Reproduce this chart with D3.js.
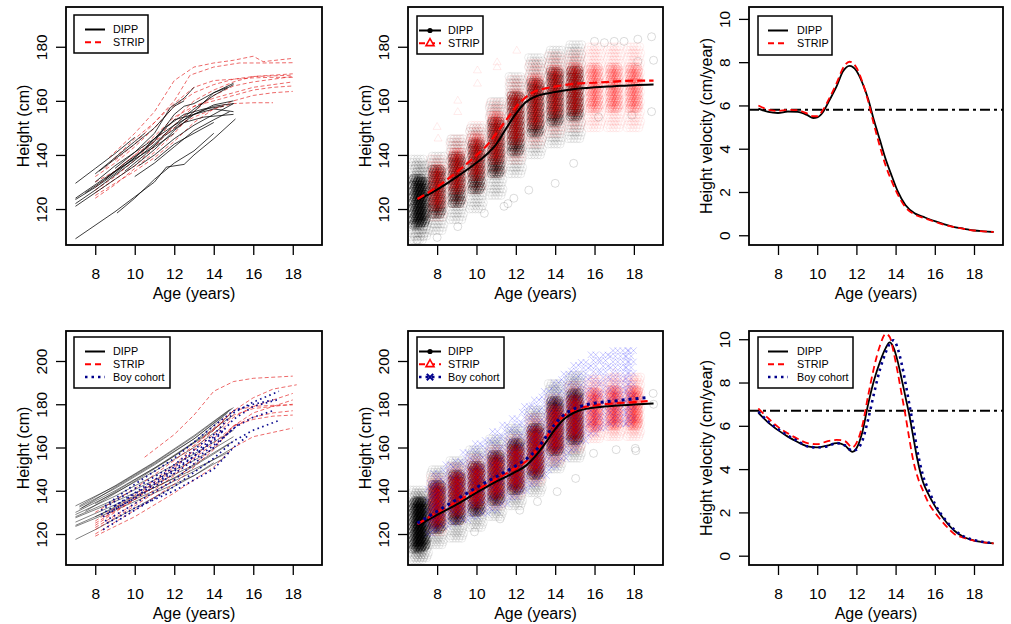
<!DOCTYPE html>
<html>
<head>
<meta charset="utf-8">
<script src="https://cdn.jsdelivr.net/npm/d3@7"></script>
<style>
body { margin: 0; background: #fff; }
svg { display: block; }
text { font-family: "Liberation Sans", Arial, sans-serif; fill: #000; }
</style>
</head>
<body>
<script>
let w = 1011
let h = 624

// ---- data ----
let cohorts = ["DIPP", "STRIP", "Boy cohort"]
let ageTicks = [8, 10, 12, 14, 16, 18]
let heightTicksTop = [120, 140, 160, 180]
let heightTicksBottom = [120, 140, 160, 180, 200]
let velocityTicks = [0, 2, 4, 6, 8, 10]

// individual trajectories, girls (top left)
let dippTrajTop = [
  [[7.0,109],[9,119],[11,130],[11.6,135.5],[12.5,136.5],[13,140],[14,146],[15.1,153.3]],
  [[9.1,118.5],[10,124],[11,131],[12,137],[13,141.5],[14,148]],
  [[7,129.5],[8,135],[9,140.5],[10,146.5]],
  [[8,133],[9,139],[10,145],[10.5,148]],
  [[8.2,134],[9,138.5],[10,144],[11,150],[12,158],[12.5,160]],
  [[7,121],[8,126],[9,131],[10,136],[11,142],[12,149],[13,155],[14,158],[15,159]],
  [[7,122],[8,127],[9,132.5],[10,138],[11,144],[12,151],[13,157],[14,162],[15,166]],
  [[7,123.5],[8,128],[9,133],[10,139],[11,146],[12,153],[13,155],[14,157],[15,156]],
  [[7.5,126],[8.5,131],[10,139],[11,145],[12,155],[12.5,158],[13,159],[14,163],[14.7,165]],
  [[9.5,134],[10.5,140],[11.5,147],[12.5,152],[13.5,154],[15,155]],
  [[10,132],[11,137],[12,143],[13,149],[14,153],[14.8,156]],
  [[8,130],[9,136],[10,141],[11,148],[11.8,157.5],[12.5,161],[13,165]],
  [[10.2,136],[11,140],[12,146],[13,151],[14,155],[15,159]],
  [[11,138],[12,144],[13,148],[14,152]],
  [[12,150],[13,156],[14,163],[15,166.5]],
  [[7,124],[8,129],[9,134],[10,138.5],[11,143],[12,148]],
  [[8.5,131],[9.5,137],[10.5,142],[11.5,150],[12.5,155],[13.5,157],[14.5,158]],
  [[9,135],[10,141],[11,146],[12,151],[13,155],[14,158.5],[15,160]]
]
let stripTrajTop = [
  [[8.7,139],[10,148],[11,156],[12,167.5],[13,172.5],[14,174],[15,175],[16,176.5],[16.5,174.5],[18,175.7]],
  [[9,138],[10,144],[11,152],[12,160],[12.8,169.5],[14,172.5],[15.3,174],[16.5,174],[18,174.1]],
  [[8,127],[9,132],[10,138],[11,145],[12,153],[13,160],[14,164],[15,167],[16,169],[17,169.5],[18,170]],
  [[8,124],[9,129],[10,135],[11,141],[12,148],[13,156],[14,162],[15,165.5],[16,167],[17,168],[18,169]],
  [[8,126],[9,131],[10,136],[11,143],[12,151],[13,158],[14,161],[15,163],[16,165],[17,166],[18,167]],
  [[8,130],[9,134],[10,140],[11,147],[12,154],[13,158],[14,160],[15,162],[16,164],[17,165],[18,165.5]],
  [[8,125],[9,129.5],[10,134],[11,139],[12,145],[13,152],[14,157],[15,160],[16,162],[17,163],[18,163.5]],
  [[8,128],[9,134],[10,140],[11,145],[12,150],[13,154],[14,157],[15,159],[16,159.3],[17,159.3]],
  [[8,132],[9,137],[10,143],[11,150],[12,158],[13,163],[14,166],[15,168],[16,168.5],[17,168.7],[18,168.7]],
  [[8.5,135],[9,139],[10,146],[11,152],[12,159],[13,165],[14,167.5],[15,168],[16,169],[18,169.5]]
]

// individual trajectories, boys (bottom left)
let dippTrajBottom = [
  [[7.2,132.5],[9,141],[11,152],[13,164],[15,178.5]],
  [[7.2,131.5],[9,140],[11,150.5],[13,162.5],[14.5,174]],
  [[7,130],[9,139],[11,149],[13,160],[14.5,170]],
  [[7,129],[9,137.5],[11,147],[13,157],[15,168]],
  [[7,128],[9,136],[11,145],[13,154],[15,165]],
  [[7,127.5],[9,135],[11,143],[13,152],[14.8,162]],
  [[7,124],[9,132],[11,140],[13,149],[15,160]],
  [[7,123.5],[9,131],[11,139],[13,147],[14.5,155]],
  [[7,117.5],[8,122],[9,127],[10,132],[11,137],[12,142],[13,147],[14,153]],
  [[8,134],[10,145],[12,156],[14,168],[15,177]],
  [[7.5,130.5],[9.5,141.5],[11.5,153],[13.5,165.5],[15,175]],
  [[8,128],[10,137],[12,146],[14,157],[15,163]],
  [[7,125.5],[9,133.5],[11,141.5],[13,150],[14.8,158]],
  [[7,133],[9,142],[11,153],[13,165],[14.9,178]],
  [[7.3,132],[9,141.5],[11,152.5],[13,164],[14.7,176]],
  [[7.2,133],[9,142.3],[11,153.3],[13,165.5],[14.8,177.5]]
]
let stripTrajBottom = [
  [[10.5,155.5],[12,166],[13,175],[14,186],[15,190.5],[16,192],[17,192.5],[18,193]],
  [[8,124],[10,136],[12,150],[14,168],[15,177],[16,183],[17,187],[18.2,189]],
  [[8,123],[10,134],[12,147],[14,164],[15,174],[16,179],[17,182],[18,185]],
  [[8,120],[10,131],[12,143],[14,159],[15,170],[16,176],[17,179],[18,182]],
  [[8,126],[10,138],[12,152],[14,169],[15,177],[16,179],[17,179.5],[18,179.7]],
  [[8,122],[10,133],[12,145],[14,160],[15,170],[16,174],[17,176],[18,177]],
  [[8,125],[10,136],[12,148],[14,162],[15,170],[16,173],[17,174.5],[18,175]],
  [[8,119],[10,128],[12,139],[14,151],[15,160],[16,165],[17,167],[18,169]],
  [[8.5,128],[10,137],[12,151],[14,166],[15,175],[16,178],[18,180]],
  [[8,130],[10,141],[12,154],[13,161],[14.5,172]]
]
let boyTrajBottom = [
  [[8.3,131],[10,141],[12,152],[14,166],[15,176],[16,181],[17.3,186]],
  [[8.4,128],[10,137],[12,149],[14,163],[15,173],[16,179],[17.2,182]],
  [[8.5,126],[10,134],[12,145],[14,160],[15,169],[16,174],[17,177]],
  [[8.4,122],[10,131],[12,142],[14,155],[15,163],[16,168],[17.3,172.5]],
  [[8.5,133],[10,143],[12,155],[14,170],[15,177],[16,180],[17,182]],
  [[8.6,125],[10,132],[12,140],[14,150],[15,160],[15.8,166]],
  [[8.3,129],[10,139],[12,151],[13.5,161],[14.5,169]],
  [[9,133],[11,144],[13,156],[14.5,168]],
  [[8.7,130],[10.5,139],[12.5,151],[14,161],[15.3,171]]
]

// measurement clouds: [age, low, core low, core high, high]
let dippCloudsTop = [
  [7.0,108.5,114,132,139],[7.22,110,115,131,137],[8,112,118,135,140],[9,116,122,140,146],
  [10,120,127,145,151],[11,125,133,153,160],[12,133,141,162,170],[13,140,148,167,176],
  [14,144,152,171,179],[15,146,154,172,181]
]
let stripCloudsTop = [
  [8,117,121,135,139],[9,122,127,141,146],[10,127,132,147,152],[11,133,138,155,160],
  [12,138,145,163,168],[13,144,151,169,174],[14,148,155,172,177],[15,150,156,173,178],
  [16,150,157,173,180],[17,150,157,173,181],[18,150,157,173,181]
]
let dippOutliersTop = [[18.9,183.7],[18.2,182.8],[17.5,182],[17,182],[16.5,181.5],[16,182],[18.9,156],[19,175],
  [18.2,174.5],[17.9,154.7],[16.2,154],[14.94,136.9],[14,129.5],[12.66,127],[11.9,124],[11.6,122],[11.4,121],
  [10.4,118.4],[9.05,113.5],[7,108.5],[8,109.5]]
let stripOutliersTop = [[8,150.3],[8.05,146],[9.05,160],[9.05,155.8],[10.05,171.2],[10.05,166.3],[11.05,174.2],
  [11.05,172.4],[12.05,178.5]]

let dippCloudsBottom = [
  [7.0,108,113,136,141],[7.22,109,114,135,140],[8,115,122,143,150],[9,118,126,148,154],
  [10,123,130,152,159],[11,128,135,157,164],[12,133,140,163,170],[13,139,147,170,178],
  [14,150,158,182,190],[15,155,163,186,194]
]
let stripCloudsBottom = [
  [8,121,125,142,147],[9,126,130,147,152],[10,130,134,151,156],[11,133,138,155,160],
  [12,138,142,160,165],[13,144,149,168,174],[14,153,159,178,184],[15,159,165,183,189],
  [16,164,169,186,192],[17,165,170,187,193],[18,165,170,187,193]
]
let boyBandAges = [7.7,8,8.5,9,9.5,10,10.5,11,11.5,12,12.5,13,13.5,14,14.5,15,15.5,16,16.5,17,17.5,17.8]
let boyBandHigh = [145,149.6,152.5,155.7,159,162,165,168,172,175.8,179,182,186,191,195,198,201,203.5,205,205.8,206,206]
let boyBandLow = [120,122,123.5,125,126.5,128,129.5,131,134,137,140,143,147,151,155,159,163,166.5,169,171,171,171]
let dippOutliersBottom = [[18.98,185],[18.07,159.6],[18.1,158.5],[17.1,159],[15.95,157.3],[15.04,145.7],[14.1,139.6],
  [13.1,135],[12.2,131],[11.2,127],[9.9,121],[19,180],[17.9,182]]
let stripOutliersBottom = [[16,193],[17,194.5],[18,192]]

// fitted mean curves: [age, height]
let dippMeanTop = [[7,123.3],[8,127.2],[9,131.9],[10,137.1],[10.5,140.1],[11,143.9],[11.5,149.7],[12,155.2],
  [12.5,159.5],[13,161.6],[13.5,162.6],[14,163.3],[15,164.4],[16,165.0],[17,165.4],[18,165.8],[19,166.0]]
let stripMeanTop = [[7,123.7],[8,128.2],[9,133.7],[10,139.9],[10.5,143.3],[11,147.9],[11.5,152.8],[12,157.7],
  [12.5,161.3],[13,163.6],[13.5,164.6],[14,165.3],[15,166.3],[16,166.7],[17,167.1],[18,167.5],[19,167.5]]
let dippMeanBottom = [[7,123.7],[8,128.8],[9,133.7],[10,139.1],[11,144.2],[12,148.8],[12.5,151.5],[13,156],
  [13.5,162],[14,168.5],[14.5,173.5],[15,176.3],[16,178.5],[17,179.3],[18,179.9],[19,180.4]]
let stripMeanBottom = [[7,124.5],[8,130],[9,135],[10,140.3],[11,145.5],[12,150.5],[12.5,153.5],[13,158],
  [13.5,164],[14,170.5],[14.5,175],[15,177.5],[16,179.5],[17,180.5],[18,181],[18.7,181.5]]
let boyMeanBottom = [[7,125],[8,130.5],[9,136],[10,141.5],[11,146.5],[12,151.5],[12.5,154.5],[13,158.5],
  [13.5,164.5],[14,171],[14.5,175.5],[15,178],[16,180.5],[17,181.5],[18,182.5],[18.6,183]]

// height velocity curves
let velAgesTop = [7,7.5,8,8.5,9,9.5,9.8,10,10.3,10.6,11,11.3,11.65,12,12.3,12.6,12.9,13.2,13.5,13.8,14.1,14.5,15,15.5,16,16.5,17,17.5,18,18.5,19]
let dippVelTop = [5.85,5.7,5.65,5.72,5.7,5.55,5.42,5.45,5.7,6.2,6.9,7.55,7.83,7.6,7.05,6.3,5.3,4.4,3.5,2.75,2.05,1.4,1.0,0.82,0.65,0.5,0.38,0.3,0.22,0.18,0.15]
let stripVelTop = [6.0,5.8,5.75,5.8,5.78,5.62,5.5,5.5,5.8,6.3,7.05,7.7,8.02,7.75,7.1,6.2,5.1,4.1,3.2,2.5,1.9,1.3,0.95,0.78,0.62,0.48,0.37,0.29,0.22,0.18,0.15]
let refVelTop = 5.8

let velAgesBottom = [7,7.5,8,8.5,9,9.5,10,10.5,11,11.4,11.8,12,12.3,12.6,12.9,13.2,13.5,13.7,13.9,14.1,14.3,14.5,14.7,14.9,15.1,15.4,15.7,16,16.5,17,17.5,18,18.5,19]
let dippVelBottom = [6.6,6.15,5.8,5.5,5.25,5.05,5.0,5.08,5.2,5.1,4.8,4.95,5.7,7.0,8.1,8.95,9.6,9.85,9.6,9.0,8.2,7.35,6.5,5.5,4.5,3.4,2.8,2.3,1.65,1.15,0.85,0.7,0.62,0.57]
let stripVelBottom = [6.8,6.35,5.95,5.65,5.4,5.2,5.15,5.28,5.35,5.3,5.0,5.2,6.0,7.4,8.7,9.7,10.25,10.1,9.4,8.5,7.5,6.5,5.4,4.4,3.7,3.0,2.4,2.0,1.45,1.0,0.82,0.7,0.62,0.57]
let boyVelBottom = [6.65,6.2,5.85,5.55,5.3,5.05,5.0,5.05,5.2,5.1,4.85,4.9,5.3,6.3,7.5,8.6,9.4,9.8,9.95,9.6,8.9,8.0,7.0,6.0,4.9,3.7,3.0,2.4,1.7,1.2,0.88,0.72,0.63,0.58]
let refVelBottom = 6.7

// ---- layout ----
let ageDomain = [6.52, 19.48]
let cols = [[66, 322], [408, 663], [749, 1003]]
let rows = [[7, 245], [331, 565]]
let black = "#000000"
let red = "#ff0000"
let navy = "#00008b"

let svg = d3.select("body").append("svg").attr("width", w).attr("height", h)

let panel = (col, row, yDomain, yTicks, yTitle) => {
  let [x0, x1] = cols[col]
  let [y0, y1] = rows[row]
  let x = d3.scaleLinear().domain(ageDomain).range([x0, x1])
  let y = d3.scaleLinear().domain(yDomain).range([y1, y0])
  let id = "clip" + col + row
  svg.append("clipPath").attr("id", id).append("rect")
    .attr("x", x0).attr("y", y0).attr("width", x1 - x0).attr("height", y1 - y0)
  let g = svg.append("g")
  let plot = g.append("g").attr("clip-path", "url(#" + id + ")")

  let xa = g.append("g").attr("transform", "translate(0," + y1 + ")")
    .call(d3.axisBottom(x).tickValues(ageTicks).tickSize(10))
  xa.select(".domain").remove()
  xa.selectAll("line").attr("stroke-width", 1.3)
  xa.selectAll("text").attr("y", 34).attr("dy", null).style("font-size", "15.5px")

  let ya = g.append("g").attr("transform", "translate(" + x0 + ",0)")
    .call(d3.axisLeft(y).tickValues(yTicks).tickSize(10))
  ya.select(".domain").remove()
  ya.selectAll("line").attr("stroke-width", 1.3)
  ya.selectAll("text").attr("x", null).attr("dy", null)
    .attr("text-anchor", "middle").attr("transform", "translate(-19,0) rotate(-90)")
    .style("font-size", "15.5px")

  g.append("text").attr("x", (x0 + x1) / 2).attr("y", y1 + 53.5)
    .attr("text-anchor", "middle").style("font-size", "16px").text("Age (years)")
  g.append("text").attr("transform", "translate(" + (x0 - 37.5) + "," + (y0 + y1) / 2 + ") rotate(-90)")
    .attr("text-anchor", "middle").style("font-size", "16px").text(yTitle)

  return {g, plot, x, y, box: [x0, y0, x1, y1]}
}

let drawBox = (p) => {
  let [x0, y0, x1, y1] = p.box
  p.g.append("rect").attr("x", x0).attr("y", y0).attr("width", x1 - x0).attr("height", y1 - y0)
    .attr("fill", "none").attr("stroke", "#000").attr("stroke-width", 1.8)
}

let drawLines = (p, lines, color, width, dash, opacity, curve) => {
  let gen = d3.line().x(d => p.x(d[0])).y(d => p.y(d[1]))
  if (curve) gen.curve(curve)
  p.plot.append("g").selectAll("path").data(lines).join("path")
    .attr("d", gen).attr("fill", "none").attr("stroke", color)
    .attr("stroke-width", width).attr("stroke-dasharray", dash)
    .attr("stroke-opacity", opacity)
}

let zipSeries = (ages, vals) => ages.map((a, i) => [a, vals[i]])

// each cloud is drawn as a staggered stack of open circles over its range,
// with a denser stack over its core
let drawClouds = (p, clouds, color, outerAlpha, coreAlpha) => {
  clouds.forEach(c => {
    let [age, lo, coreLo, coreHi, hi] = c
    let pts = []
    let k = 0
    for (let v = lo; v <= hi; v += 1.2) {
      let s = (k++ % 3) * 0.05
      ;[-0.3, -0.15, 0, 0.15, 0.3].forEach(dx => pts.push([age + dx - 0.05 + s, v, outerAlpha]))
    }
    k = 0
    for (let v = coreLo; v <= coreHi; v += 0.7) {
      let s = (k++ % 3) * 0.045
      ;[-0.2, -0.07, 0.07, 0.2].forEach(dx => pts.push([age + dx - 0.045 + s, v, coreAlpha]))
    }
    p.plot.append("g").selectAll("circle").data(pts).join("circle")
      .attr("cx", d => p.x(d[0])).attr("cy", d => p.y(d[1])).attr("r", 4)
      .attr("fill", "none").attr("stroke", color).attr("stroke-width", 1)
      .attr("stroke-opacity", d => d[2])
  })
}

let drawCircles = (p, pts, color, alpha) => {
  p.plot.append("g").selectAll("circle").data(pts).join("circle")
    .attr("cx", d => p.x(d[0])).attr("cy", d => p.y(d[1])).attr("r", 4)
    .attr("fill", "none").attr("stroke", color).attr("stroke-opacity", alpha)
}

let triPath = "M0,-4.6L4,2.3L-4,2.3Z"
let crossPath = "M-3.2,-3.2L3.2,3.2M-3.2,3.2L3.2,-3.2"

let drawTriangles = (p, pts, color, alpha) => {
  p.plot.append("g").selectAll("path").data(pts).join("path")
    .attr("d", triPath).attr("transform", d => "translate(" + p.x(d[0]) + "," + p.y(d[1]) + ")")
    .attr("fill", "none").attr("stroke", color).attr("stroke-opacity", alpha)
}

let drawBoyBand = (p) => {
  let pts = []
  boyBandAges.forEach((a, i) => {
    let k = 0
    for (let v = boyBandLow[i]; v <= boyBandHigh[i]; v += 2.6) {
      let s = (k++ % 2) * 0.12
      ;[-0.12, 0.12].forEach(dx => pts.push([a + dx - 0.06 + s, v]))
    }
  })
  p.plot.append("g").selectAll("path").data(pts).join("path")
    .attr("d", crossPath).attr("transform", d => "translate(" + p.x(d[0]) + "," + p.y(d[1]) + ")")
    .attr("fill", "none").attr("stroke", "#0000ff").attr("stroke-width", 1).attr("stroke-opacity", 0.2)
}

let legend = (p, x0, y0, bw, bh, entries, lineX, textX) => {
  let lg = p.g.append("g")
  lg.append("rect").attr("x", x0).attr("y", y0).attr("width", bw).attr("height", bh)
    .attr("fill", "#fff").attr("stroke", "#000").attr("stroke-width", 1.5)
  entries.forEach((e, i) => {
    let yy = y0 + 14.5 + i * 12.8
    lg.append("line").attr("x1", lineX[0]).attr("x2", lineX[1]).attr("y1", yy).attr("y2", yy)
      .attr("stroke", e.color).attr("stroke-width", e.width).attr("stroke-dasharray", e.dash)
    let mx = (lineX[0] + lineX[1]) / 2
    if (e.marker == "dot") {
      lg.append("circle").attr("cx", mx).attr("cy", yy).attr("r", 2.6).attr("fill", e.color)
    } else if (e.marker == "tri") {
      lg.append("path").attr("d", triPath).attr("transform", "translate(" + mx + "," + yy + ")")
        .attr("fill", "#fff").attr("stroke", e.color).attr("stroke-width", 1.6)
    } else if (e.marker == "x") {
      lg.append("path").attr("d", crossPath).attr("transform", "translate(" + mx + "," + yy + ")")
        .attr("fill", "none").attr("stroke", e.color).attr("stroke-width", 2)
    }
    lg.append("text").attr("x", textX).attr("y", yy + 3.9).style("font-size", "10.8px").text(e.label)
  })
}

let baseEntries = [
  {label: cohorts[0], color: black, width: 2, dash: null},
  {label: cohorts[1], color: red, width: 2, dash: "6,4"},
  {label: cohorts[2], color: navy, width: 2.5, dash: "2.5,4"}
]

// ---- top row ----
let p1 = panel(0, 0, [106.7, 194.7], heightTicksTop, "Height (cm)")
drawLines(p1, stripTrajTop, "#e00000", 0.9, "4,2.5", 0.65)
drawLines(p1, dippTrajTop, black, 0.9, null, 0.85)
legend(p1, 74, 15, 74, 38, baseEntries.slice(0, 2), [85, 105], 113)
drawBox(p1)

let p2 = panel(1, 0, [106.7, 194.7], heightTicksTop, "Height (cm)")
drawClouds(p2, dippCloudsTop, black, 0.08, 0.27)
drawCircles(p2, dippOutliersTop, black, 0.14)
drawClouds(p2, stripCloudsTop, red, 0.06, 0.13)
drawTriangles(p2, stripOutliersTop, red, 0.08)
drawLines(p2, [dippMeanTop], black, 2, null, 1, d3.curveMonotoneX)
drawLines(p2, [stripMeanTop], red, 2.2, "8,4", 1, d3.curveMonotoneX)
legend(p2, 417, 16, 66, 38, [
  Object.assign({}, baseEntries[0], {marker: "dot"}),
  Object.assign({}, baseEntries[1], {marker: "tri"})
], [419, 441], 448)
drawBox(p2)

let p3 = panel(2, 0, [-0.45, 10.55], velocityTicks, "Height velocity (cm/year)")
drawLines(p3, [[[ageDomain[0], refVelTop], [ageDomain[1], refVelTop]]], black, 2, "10,4,3,4", 1)
drawLines(p3, [zipSeries(velAgesTop, dippVelTop)], black, 1.8, null, 1, d3.curveMonotoneX)
drawLines(p3, [zipSeries(velAgesTop, stripVelTop)], red, 1.8, "7,4", 1, d3.curveMonotoneX)
legend(p3, 758, 16, 74, 39, baseEntries.slice(0, 2), [768, 788], 797)
drawBox(p3)

// ---- bottom row ----
let p4 = panel(0, 1, [105.67, 213.87], heightTicksBottom, "Height (cm)")
drawLines(p4, dippTrajBottom, black, 0.9, null, 0.55)
drawLines(p4, stripTrajBottom, "#e00000", 0.9, "4,2.5", 0.65)
drawLines(p4, boyTrajBottom, navy, 1.7, "1.6,3.4", 0.95)
legend(p4, 74, 337, 96, 51, baseEntries, [85, 105], 113)
drawBox(p4)

let p5 = panel(1, 1, [105.67, 213.87], heightTicksBottom, "Height (cm)")
drawClouds(p5, dippCloudsBottom, black, 0.08, 0.27)
drawCircles(p5, dippOutliersBottom, black, 0.14)
drawClouds(p5, stripCloudsBottom, red, 0.07, 0.15)
drawTriangles(p5, stripOutliersBottom, red, 0.08)
drawBoyBand(p5)
drawLines(p5, [dippMeanBottom], black, 2, null, 1, d3.curveMonotoneX)
drawLines(p5, [stripMeanBottom], red, 2.2, "8,4", 1, d3.curveMonotoneX)
drawLines(p5, [boyMeanBottom], navy, 3, "3,4", 1, d3.curveMonotoneX)
legend(p5, 417, 337, 87, 51, [
  Object.assign({}, baseEntries[0], {marker: "dot"}),
  Object.assign({}, baseEntries[1], {marker: "tri"}),
  Object.assign({}, baseEntries[2], {marker: "x"})
], [419, 441], 448)
drawBox(p5)

let p6 = panel(2, 1, [-0.43, 10.38], velocityTicks, "Height velocity (cm/year)")
drawLines(p6, [[[ageDomain[0], refVelBottom], [ageDomain[1], refVelBottom]]], black, 2, "10,4,3,4", 1)
drawLines(p6, [zipSeries(velAgesBottom, dippVelBottom)], black, 1.8, null, 1, d3.curveMonotoneX)
drawLines(p6, [zipSeries(velAgesBottom, stripVelBottom)], red, 1.8, "7,4", 1, d3.curveMonotoneX)
drawLines(p6, [zipSeries(velAgesBottom, boyVelBottom)], navy, 2.6, "2.5,4", 1, d3.curveMonotoneX)
legend(p6, 758, 337, 95, 51, baseEntries, [768, 788], 797)
drawBox(p6)
</script>
</body>
</html>
